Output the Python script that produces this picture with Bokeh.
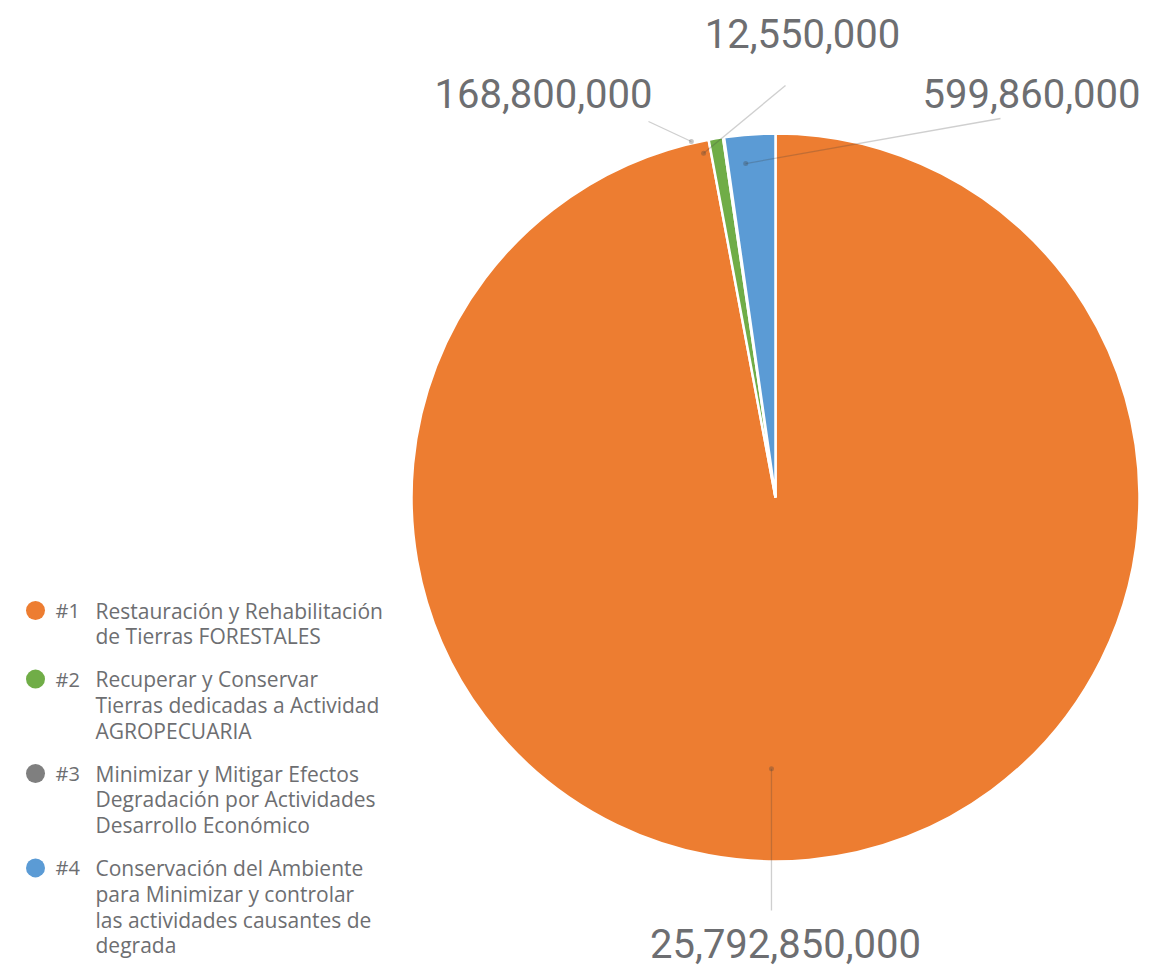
import math
from bokeh.plotting import figure
from bokeh.models import ColumnDataSource, Range1d
from bokeh.core.properties import value
from bokeh.embed import file_html
from bokeh.resources import INLINE

# ---------------- data ----------------
categories = ["#1", "#2", "#3", "#4"]
legend_texts = [
    ["Restauración y Rehabilitación", "de Tierras FORESTALES"],
    ["Recuperar y Conservar", "Tierras dedicadas a Actividad", "AGROPECUARIA"],
    ["Minimizar y Mitigar Efectos", "Degradación por Actividades", "Desarrollo Económico"],
    ["Conservación del Ambiente", "para Minimizar y controlar", "las actividades causantes de", "degrada"],
]
values = [25792850000, 168800000, 12550000, 599860000]
colors = ["#ED7D31", "#70AD47", "#7F7F7F", "#5B9BD5"]

# ---------------- layout (pixels) ----------------
W, H = 1160, 967
CX, CY, R = 775, 470, 364
# leader anchors: (clockwise angle from top in degrees, radius fraction)
anchor_polar = [(180.85, 0.745), (346.7, 1.005), (348.2, 0.966), (354.9, 0.921)]
# leader end points and label centres, in page pixels (top-left origin)
leader_end_px = [(771, 910), (648, 121), (785, 85), (1000, 118)]
label_center_px = [(785, 943), (543, 93), (802, 33), (1031, 93)]


def px(x, y):
    return x, H - y


p = figure(width=W, height=H, output_backend="svg", toolbar_location=None,
           x_axis_type=None, y_axis_type=None, min_border=0,
           x_range=Range1d(0, W), y_range=Range1d(0, H))
p.grid.visible = False
p.outline_line_color = None
p.background_fill_color = "white"
p.border_fill_color = "white"

total = sum(values)
starts, ends = [], []
cum = 0.0
for v in values:
    a0 = math.pi / 2 - 2 * math.pi * cum / total
    cum += v
    a1 = math.pi / 2 - 2 * math.pi * cum / total
    starts.append(a0)
    ends.append(a1)

src = ColumnDataSource(dict(x=[CX] * 4, y=[CY] * 4, start=starts, end=ends,
                            color=colors, cat=categories))
p.wedge(x="x", y="y", radius=R, start_angle="start", end_angle="end",
        direction="clock", fill_color="color", line_color="white",
        line_width=2.5, source=src)

# leader lines and labels
ax, ay, ex, ey, lx, ly, txt = [], [], [], [], [], [], []
for i, v in enumerate(values):
    ang, rf = anchor_polar[i]
    a = math.radians(ang)
    x0 = CX + R * rf * math.sin(a)
    y0 = CY + R * rf * math.cos(a)
    x1, y1 = px(*leader_end_px[i])
    ax.append(x0); ay.append(y0); ex.append(x1); ey.append(y1)
    cxl, cyl = px(*label_center_px[i])
    lx.append(cxl); ly.append(cyl)
    txt.append(f"{v:,}")

p.segment(x0=ax, y0=ay, x1=ex, y1=ey, line_color="#404040", line_alpha=0.25,
          line_width=1.3)
p.scatter(x=ax, y=ay, size=5, marker="circle", fill_color="#404040",
          fill_alpha=0.3, line_color=None)
p.text(x=lx, y=ly, text=txt, text_align="center", text_baseline="middle",
       text_font=value("Roboto"), text_font_size="40px",
       text_color="#6D6E71")

# legend (drawn manually)
y_line = 610
line_h = 25.8
gap = 17
mx, my, mc = [], [], []
hx, hy, ht = [], [], []
tx, ty, tt = [], [], []
for i, lines in enumerate(legend_texts):
    bx, by = px(35, y_line)
    mx.append(bx); my.append(by); mc.append(colors[i])
    hx.append(55); hy.append(by); ht.append(categories[i])
    for j, line in enumerate(lines):
        tx.append(95); ty.append(px(0, y_line + j * line_h)[1]); tt.append(line)
    y_line += len(lines) * line_h + gap

p.scatter(x=mx, y=my, size=19, marker="circle", fill_color=mc, line_color=None)
p.text(x=hx, y=hy, text=ht, text_baseline="middle", text_font=value("Open Sans"),
       text_font_size="20px", text_color="#6D6E71")
p.text(x=tx, y=ty, text=tt, text_baseline="middle", text_font=value("Open Sans"),
       text_font_size="21px", text_color="#6D6E71")

open("out.html", "w").write(file_html(p, INLINE))
